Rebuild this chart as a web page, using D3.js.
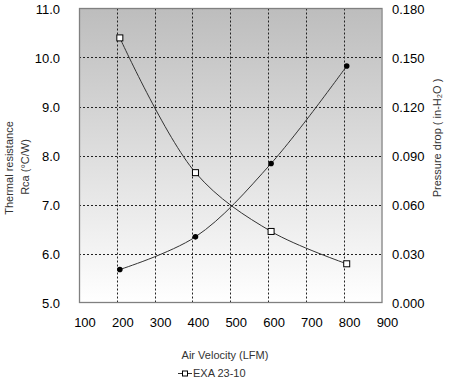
<!DOCTYPE html>
<html><head><meta charset="utf-8">
<script src="https://cdn.jsdelivr.net/npm/d3@7"></script>
<style>body{margin:0;background:#fff}svg{display:block;font-family:"Liberation Sans",Arial,sans-serif}</style>
</head><body>
<script>
const velocity = [208, 408, 608, 808];
const thermalResistance = [10.4, 7.65, 6.45, 5.79];
const pressureDrop = [0.0202, 0.0402, 0.0851, 0.1448];
const xTicks = [100, 200, 300, 400, 500, 600, 700, 800, 900];
const yLeftTicks = [5, 6, 7, 8, 9, 10, 11];
const yRightTicks = [0, 0.03, 0.06, 0.09, 0.12, 0.15, 0.18];
const seriesName = "EXA 23-10";

const W = 454, H = 382;
const L = 79, R = 381.5, T = 8.5, B = 302.5;
const svg = d3.select("body").append("svg").attr("width", W).attr("height", H);
const x = d3.scaleLinear().domain([100, 900]).range([L, R]);
const yL = d3.scaleLinear().domain([5, 11]).range([B, T]);
const yR = d3.scaleLinear().domain([0, 0.18]).range([B, T]);

const grad = svg.append("defs").append("linearGradient").attr("id", "bg")
  .attr("x1", 0).attr("y1", 0).attr("x2", 0).attr("y2", 1);
grad.append("stop").attr("offset", "0%").attr("stop-color", "#bdbdbd");
grad.append("stop").attr("offset", "100%").attr("stop-color", "#ffffff");

svg.append("rect").attr("x", L).attr("y", T).attr("width", R - L).attr("height", B - T)
  .attr("fill", "url(#bg)");

// gridlines
svg.append("g").selectAll("line").data(xTicks.slice(1, -1)).join("line")
  .attr("x1", d => Math.round(x(d)) + 0.5).attr("x2", d => Math.round(x(d)) + 0.5)
  .attr("y1", T).attr("y2", B)
  .attr("stroke", "#222").attr("stroke-dasharray", "2,2");
svg.append("g").selectAll("line").data(yLeftTicks.slice(1, -1)).join("line")
  .attr("y1", d => Math.round(yL(d)) + 0.5).attr("y2", d => Math.round(yL(d)) + 0.5)
  .attr("x1", L).attr("x2", R)
  .attr("stroke", "#222").attr("stroke-dasharray", "2,2");

svg.append("rect").attr("x", L + 0.5).attr("y", T).attr("width", R - L).attr("height", B - T)
  .attr("fill", "none").attr("stroke", "#808080").attr("stroke-width", 1.3);

// tick labels
svg.append("g").selectAll("text").data(yLeftTicks).join("text")
  .attr("x", 60).attr("y", d => yL(d) + 5).attr("text-anchor", "end")
  .attr("font-size", 13).attr("fill", "#000").text(d => d.toFixed(1));
svg.append("g").selectAll("text").data(yRightTicks).join("text")
  .attr("x", 392).attr("y", d => yR(d) + 5).attr("text-anchor", "start")
  .attr("font-size", 13).attr("fill", "#000").text(d => d.toFixed(3));
svg.append("g").selectAll("text").data(xTicks).join("text")
  .attr("x", d => x(d) + 6).attr("y", 327).attr("text-anchor", "middle")
  .attr("font-size", 13).attr("fill", "#000").text(d => d);

// axis titles
svg.append("text").attr("transform", "translate(13,168) rotate(-90)")
  .attr("text-anchor", "middle").attr("font-size", 11).attr("fill", "#333").text("Thermal resistance");
svg.append("text").attr("transform", "translate(29,167) rotate(-90)")
  .attr("text-anchor", "middle").attr("font-size", 11).attr("fill", "#333").text("Rca (°C/W)");
svg.append("text").attr("transform", "translate(441,138) rotate(-90)")
  .attr("text-anchor", "middle").attr("font-size", 11).attr("fill", "#333").text("Pressure drop ( in-H₂O )");
svg.append("text").attr("x", 225).attr("y", 359).attr("text-anchor", "middle")
  .attr("font-size", 11).attr("fill", "#333").text("Air Velocity (LFM)");

// lines
const lineL = d3.line().x((d, i) => x(velocity[i])).y(d => yL(d)).curve(d3.curveCatmullRom.alpha(0.5));
const lineR = d3.line().x((d, i) => x(velocity[i])).y(d => yR(d)).curve(d3.curveCatmullRom.alpha(0.5));
svg.append("path").attr("d", lineL(thermalResistance)).attr("fill", "none").attr("stroke", "#333").attr("stroke-width", 1);
svg.append("path").attr("d", lineR(pressureDrop)).attr("fill", "none").attr("stroke", "#333").attr("stroke-width", 1);

svg.append("g").selectAll("circle").data(pressureDrop).join("circle")
  .attr("cx", (d, i) => x(velocity[i])).attr("cy", d => yR(d)).attr("r", 2.8).attr("fill", "#000");
svg.append("g").selectAll("rect").data(thermalResistance).join("rect")
  .attr("x", (d, i) => x(velocity[i]) - 3).attr("y", d => yL(d) - 3)
  .attr("width", 6).attr("height", 6).attr("fill", "#fff").attr("stroke", "#000").attr("stroke-width", 1);

// legend
const lg = svg.append("g");
lg.append("line").attr("x1", 178).attr("x2", 192).attr("y1", 373.5).attr("y2", 373.5).attr("stroke", "#333");
lg.append("rect").attr("x", 182.5).attr("y", 371).attr("width", 5).attr("height", 5).attr("fill", "#fff").attr("stroke", "#000");
lg.append("text").attr("x", 193).attr("y", 377).attr("font-size", 11).attr("fill", "#333").text(seriesName);
</script>
</body></html>
